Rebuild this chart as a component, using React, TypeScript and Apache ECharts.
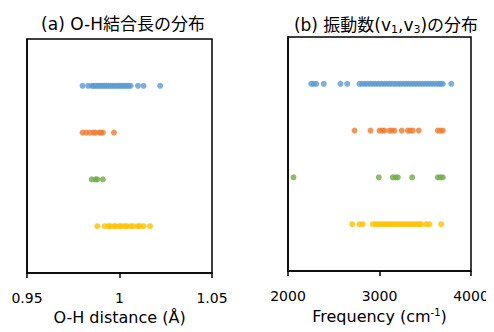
import React, { useEffect, useRef } from "react";
import * as echarts from "echarts";

// O-H distance (Å)
const ohBlue = [0.980, 0.983, 0.985, 0.986, 0.987, 0.988, 0.989, 0.990, 0.991, 0.992, 0.993, 0.994, 0.995, 0.996, 0.997, 0.998, 0.999, 1.000, 1.001, 1.002, 1.003, 1.004, 1.005, 1.006, 1.010, 1.013, 1.022];
const ohOrange = [0.980, 0.982, 0.984, 0.986, 0.987, 0.989, 0.990, 0.991, 0.997];
const ohGreen = [0.985, 0.987, 0.988, 0.991];
const ohYellow = [0.988, 0.992, 0.994, 0.995, 0.997, 0.998, 1.000, 1.001, 1.003, 1.004, 1.006, 1.0075, 1.010, 1.011, 1.013, 1.0165];

// Frequency (cm-1)
const frBlue = [2254, 2280, 2308, 2391, 2574, 2647, 2781, 2810, 2840, 2870, 2900, 2930, 2960, 2990, 3020, 3050, 3080, 3110, 3140, 3170, 3200, 3230, 3260, 3290, 3320, 3350, 3380, 3410, 3440, 3470, 3500, 3530, 3560, 3590, 3620, 3650, 3670, 3692, 3784];
const frOrange = [2727, 2902, 3000, 3030, 3055, 3109, 3135, 3164, 3243, 3309, 3335, 3364, 3429, 3637, 3665, 3692];
const frGreen = [2060, 2992, 3145, 3175, 3200, 3357, 3637, 3665, 3692];
const frYellow = [2702, 2781, 2817, 2927, 2960, 2990, 3020, 3050, 3080, 3110, 3140, 3170, 3200, 3230, 3260, 3290, 3320, 3350, 3380, 3410, 3435, 3456, 3510, 3546, 3674];

const rowY = [4, 3, 2, 1];
const colors = ["#5B9BD5", "#ED7D31", "#70AD47", "#FFC000"];

const ohSets = [ohBlue, ohOrange, ohGreen, ohYellow];
const frSets = [frBlue, frOrange, frGreen, frYellow];

const leftTicks = ["0.95", "1", "1.05"];
const rightTicks = ["2000", "3000", "4000"];

const FONT = "'DejaVu Sans', 'Noto Sans CJK JP', sans-serif";

export default function App() {
  const ref = useRef<HTMLDivElement>(null);
  useEffect(() => {
    if (!ref.current) return;
    const chart = echarts.init(ref.current, null, { renderer: "svg" });
    const axisLine = { show: true, lineStyle: { color: "#000", width: 1.5 } };
    const series: any[] = [];
    ohSets.forEach((arr, i) => {
      series.push({
        type: "scatter",
        xAxisIndex: 0,
        yAxisIndex: 0,
        symbolSize: 6,
        itemStyle: { color: colors[i] },
        data: arr.map((v) => [v, rowY[i]]),
      });
    });
    frSets.forEach((arr, i) => {
      series.push({
        type: "scatter",
        xAxisIndex: 1,
        yAxisIndex: 1,
        symbolSize: 6,
        itemStyle: { color: colors[i] },
        data: arr.map((v) => [v, rowY[i]]),
      });
    });
    chart.setOption({
      animation: false,
      backgroundColor: "#fff",
      textStyle: { fontFamily: FONT },
      title: [
        {
          text: "(a) O-H結合長の分布",
          left: 118,
          textAlign: "center",
          top: 10,
          textStyle: { fontSize: 17, fontWeight: "normal", color: "#000", fontFamily: FONT },
        },
        {
          text: "(b) 振動数(v{sub|1},v{sub|3})の分布",
          left: 381,
          textAlign: "center",
          top: 10,
          textStyle: {
            fontSize: 17,
            fontWeight: "normal",
            color: "#000",
            fontFamily: FONT,
            rich: {
              sub: { fontSize: 11, verticalAlign: "bottom", padding: [9, 0, 0, 0], color: "#000", fontFamily: FONT },
            },
          },
        },
      ],
      grid: [
        { left: 27, right: 282, top: 39, bottom: 59, show: true, borderColor: "#000", borderWidth: 1.5 },
        { left: 288, right: 23, top: 37, bottom: 61, show: true, borderColor: "#000", borderWidth: 1.5 },
      ],
      xAxis: [
        {
          type: "value",
          gridIndex: 0,
          min: 0.95,
          max: 1.05,
          interval: 0.05,
          axisLine,
          axisTick: { show: true, inside: false, length: 5, lineStyle: { color: "#000", width: 1.5 } },
          splitLine: { show: false },
          axisLabel: {
            color: "#000",
            fontSize: 14,
            margin: 18,
            fontFamily: FONT,
            formatter: (v: number) => {
              const idx = Math.round((v - 0.95) / 0.05);
              return leftTicks[idx] ?? "";
            },
          },
          name: "O-H distance (Å)",
          nameLocation: "middle",
          nameGap: 34,
          nameTextStyle: { color: "#000", fontSize: 16, fontFamily: FONT },
        },
        {
          type: "value",
          gridIndex: 1,
          min: 2000,
          max: 4000,
          interval: 1000,
          axisLine,
          axisTick: { show: true, inside: false, length: 5, lineStyle: { color: "#000", width: 1.5 } },
          splitLine: { show: false },
          axisLabel: {
            color: "#000",
            fontSize: 14,
            margin: 18,
            fontFamily: FONT,
            formatter: (v: number) => {
              const idx = Math.round((v - 2000) / 1000);
              return rightTicks[idx] ?? "";
            },
          },
          name: "Frequency (cm{sup|-1})",
          nameLocation: "middle",
          nameGap: 36,
          nameTextStyle: {
            color: "#000",
            fontSize: 16,
            fontFamily: FONT,
            rich: {
              sup: { fontSize: 10, verticalAlign: "top", padding: [0, 0, 8, 0], color: "#000", fontFamily: FONT },
            },
          },
        },
      ],
      yAxis: [
        {
          type: "value",
          gridIndex: 0,
          min: 0,
          max: 5,
          axisLine,
          axisTick: { show: false },
          axisLabel: { show: false },
          splitLine: { show: false },
        },
        {
          type: "value",
          gridIndex: 1,
          min: 0,
          max: 5,
          axisLine,
          axisTick: { show: false },
          axisLabel: { show: false },
          splitLine: { show: false },
        },
      ],
      series,
    });
    return () => chart.dispose();
  }, []);
  return <div ref={ref} style={{ width: 494, height: 332, marginLeft: -8, marginTop: -8 }} />;
}
